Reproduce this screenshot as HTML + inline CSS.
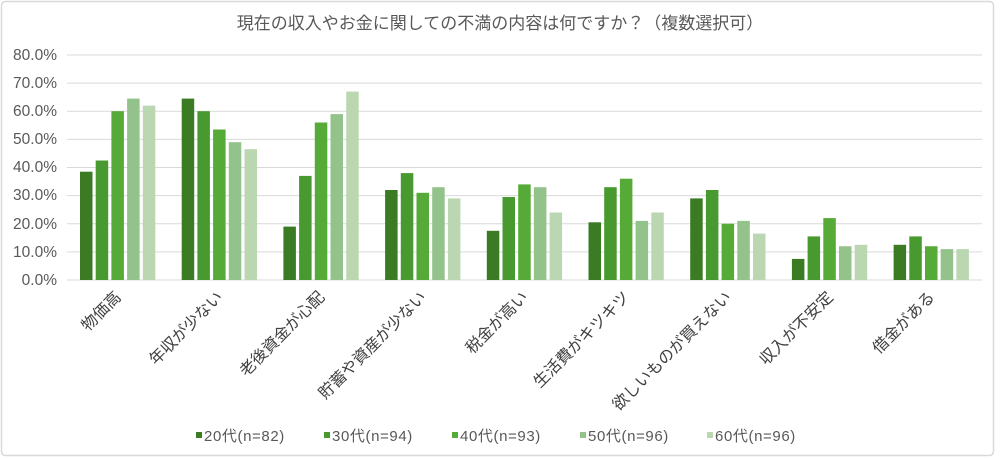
<!DOCTYPE html>
<html><head><meta charset="utf-8"><style>
html,body{margin:0;padding:0;background:#fff;}
svg{display:block;font-family:"Liberation Sans","Noto Sans CJK JP",sans-serif;}
</style></head><body>
<svg width="1000" height="458" viewBox="0 0 1000 458" xmlns="http://www.w3.org/2000/svg">
<rect x="1.5" y="1.5" width="992" height="454" rx="4" fill="#fff" stroke="#d9d9d9" stroke-width="1.5"/>
<text x="500" y="29" font-size="17" fill="#595959" text-anchor="middle">現在の収入やお金に関しての不満の内容は何ですか？（複数選択可）</text>
<g stroke="#d9d9d9" stroke-width="1">
<line x1="67" x2="982" y1="55" y2="55"/><line x1="67" x2="982" y1="83.1" y2="83.1"/>
<line x1="67" x2="982" y1="111.2" y2="111.2"/><line x1="67" x2="982" y1="139.4" y2="139.4"/>
<line x1="67" x2="982" y1="167.5" y2="167.5"/><line x1="67" x2="982" y1="195.6" y2="195.6"/>
<line x1="67" x2="982" y1="223.8" y2="223.8"/><line x1="67" x2="982" y1="251.9" y2="251.9"/>
<line x1="67" x2="982" y1="280" y2="280"/>
</g>
<g font-size="15.5" fill="#595959" text-anchor="end">
<text x="57" y="60">80.0%</text><text x="57" y="88">70.0%</text><text x="57" y="116">60.0%</text>
<text x="57" y="144">50.0%</text><text x="57" y="172">40.0%</text><text x="57" y="200">30.0%</text>
<text x="57" y="229">20.0%</text><text x="57" y="257">10.0%</text><text x="57" y="285">0.0%</text>
</g>
<g id="bars">
<g transform="translate(80,0)">
<rect x="0" y="171.7" width="12.5" height="108.3" fill="#3b7b24"/><rect x="15.7" y="160.5" width="12.5" height="119.5" fill="#48992f"/><rect x="31.4" y="111.2" width="12.5" height="168.8" fill="#56aa37"/><rect x="47.1" y="98.6" width="12.5" height="181.4" fill="#93c38a"/><rect x="62.8" y="105.6" width="12.5" height="174.4" fill="#bad7b1"/></g>
<g transform="translate(181.7,0)">
<rect x="0" y="98.6" width="12.5" height="181.4" fill="#3b7b24"/><rect x="15.7" y="111.2" width="12.5" height="168.8" fill="#48992f"/><rect x="31.4" y="129.5" width="12.5" height="150.5" fill="#56aa37"/><rect x="47.1" y="142.2" width="12.5" height="137.8" fill="#93c38a"/><rect x="62.8" y="149.2" width="12.5" height="130.8" fill="#bad7b1"/></g>
<g transform="translate(283.4,0)">
<rect x="0" y="226.6" width="12.5" height="53.4" fill="#3b7b24"/><rect x="15.7" y="175.9" width="12.5" height="104.1" fill="#48992f"/><rect x="31.4" y="122.5" width="12.5" height="157.5" fill="#56aa37"/><rect x="47.1" y="114.1" width="12.5" height="165.9" fill="#93c38a"/><rect x="62.8" y="91.6" width="12.5" height="188.4" fill="#bad7b1"/></g>
<g transform="translate(385.1,0)">
<rect x="0" y="190" width="12.5" height="90" fill="#3b7b24"/><rect x="15.7" y="173.1" width="12.5" height="106.9" fill="#48992f"/><rect x="31.4" y="192.8" width="12.5" height="87.2" fill="#56aa37"/><rect x="47.1" y="187.2" width="12.5" height="92.8" fill="#93c38a"/><rect x="62.8" y="198.4" width="12.5" height="81.6" fill="#bad7b1"/></g>
<g transform="translate(486.8,0)">
<rect x="0" y="230.8" width="12.5" height="49.2" fill="#3b7b24"/><rect x="15.7" y="197" width="12.5" height="83" fill="#48992f"/><rect x="31.4" y="184.4" width="12.5" height="95.6" fill="#56aa37"/><rect x="47.1" y="187.2" width="12.5" height="92.8" fill="#93c38a"/><rect x="62.8" y="212.5" width="12.5" height="67.5" fill="#bad7b1"/></g>
<g transform="translate(588.5,0)">
<rect x="0" y="222.3" width="12.5" height="57.7" fill="#3b7b24"/><rect x="15.7" y="187.2" width="12.5" height="92.8" fill="#48992f"/><rect x="31.4" y="178.7" width="12.5" height="101.3" fill="#56aa37"/><rect x="47.1" y="220.9" width="12.5" height="59.1" fill="#93c38a"/><rect x="62.8" y="212.5" width="12.5" height="67.5" fill="#bad7b1"/></g>
<g transform="translate(690.2,0)">
<rect x="0" y="198.4" width="12.5" height="81.6" fill="#3b7b24"/><rect x="15.7" y="190" width="12.5" height="90" fill="#48992f"/><rect x="31.4" y="223.7" width="12.5" height="56.3" fill="#56aa37"/><rect x="47.1" y="220.9" width="12.5" height="59.1" fill="#93c38a"/><rect x="62.8" y="233.6" width="12.5" height="46.4" fill="#bad7b1"/></g>
<g transform="translate(791.9,0)">
<rect x="0" y="258.9" width="12.5" height="21.1" fill="#3b7b24"/><rect x="15.7" y="236.4" width="12.5" height="43.6" fill="#48992f"/><rect x="31.4" y="218.1" width="12.5" height="61.9" fill="#56aa37"/><rect x="47.1" y="246.25" width="12.5" height="33.75" fill="#93c38a"/><rect x="62.8" y="244.8" width="12.5" height="35.2" fill="#bad7b1"/></g>
<g transform="translate(893.6,0)">
<rect x="0" y="244.8" width="12.5" height="35.2" fill="#3b7b24"/><rect x="15.7" y="236.4" width="12.5" height="43.6" fill="#48992f"/><rect x="31.4" y="246.25" width="12.5" height="33.75" fill="#56aa37"/><rect x="47.1" y="249.1" width="12.5" height="30.9" fill="#93c38a"/><rect x="62.8" y="249.1" width="12.5" height="30.9" fill="#bad7b1"/></g>
</g>
<g font-size="16" fill="#404040" text-anchor="end">
<text transform="translate(122,298) rotate(-45)">物価高</text>
<text transform="translate(223.7,298) rotate(-45)">年収が少ない</text>
<text transform="translate(325.4,298) rotate(-45)">老後資金が心配</text>
<text transform="translate(427.1,298) rotate(-45)">貯蓄や資産が少ない</text>
<text transform="translate(528.8,298) rotate(-45)">税金が高い</text>
<text transform="translate(630.5,298) rotate(-45)">生活費がキツキツ</text>
<text transform="translate(732.2,298) rotate(-45)">欲しいものが買えない</text>
<text transform="translate(833.9,298) rotate(-45)">収入が不安定</text>
<text transform="translate(935.6,298) rotate(-45)">借金がある</text>
</g>
<g font-size="15" fill="#595959" letter-spacing="0.6">
<rect x="196" y="432" width="6" height="6" fill="#3b7b24"/><text x="204" y="441">20代(n=82)</text>
<rect x="324" y="432" width="6" height="6" fill="#48992f"/><text x="332" y="441">30代(n=94)</text>
<rect x="452" y="432" width="6" height="6" fill="#56aa37"/><text x="460" y="441">40代(n=93)</text>
<rect x="580" y="432" width="6" height="6" fill="#93c38a"/><text x="588" y="441">50代(n=96)</text>
<rect x="707" y="432" width="6" height="6" fill="#bad7b1"/><text x="715" y="441">60代(n=96)</text>
</g>
</svg>
</body></html>
